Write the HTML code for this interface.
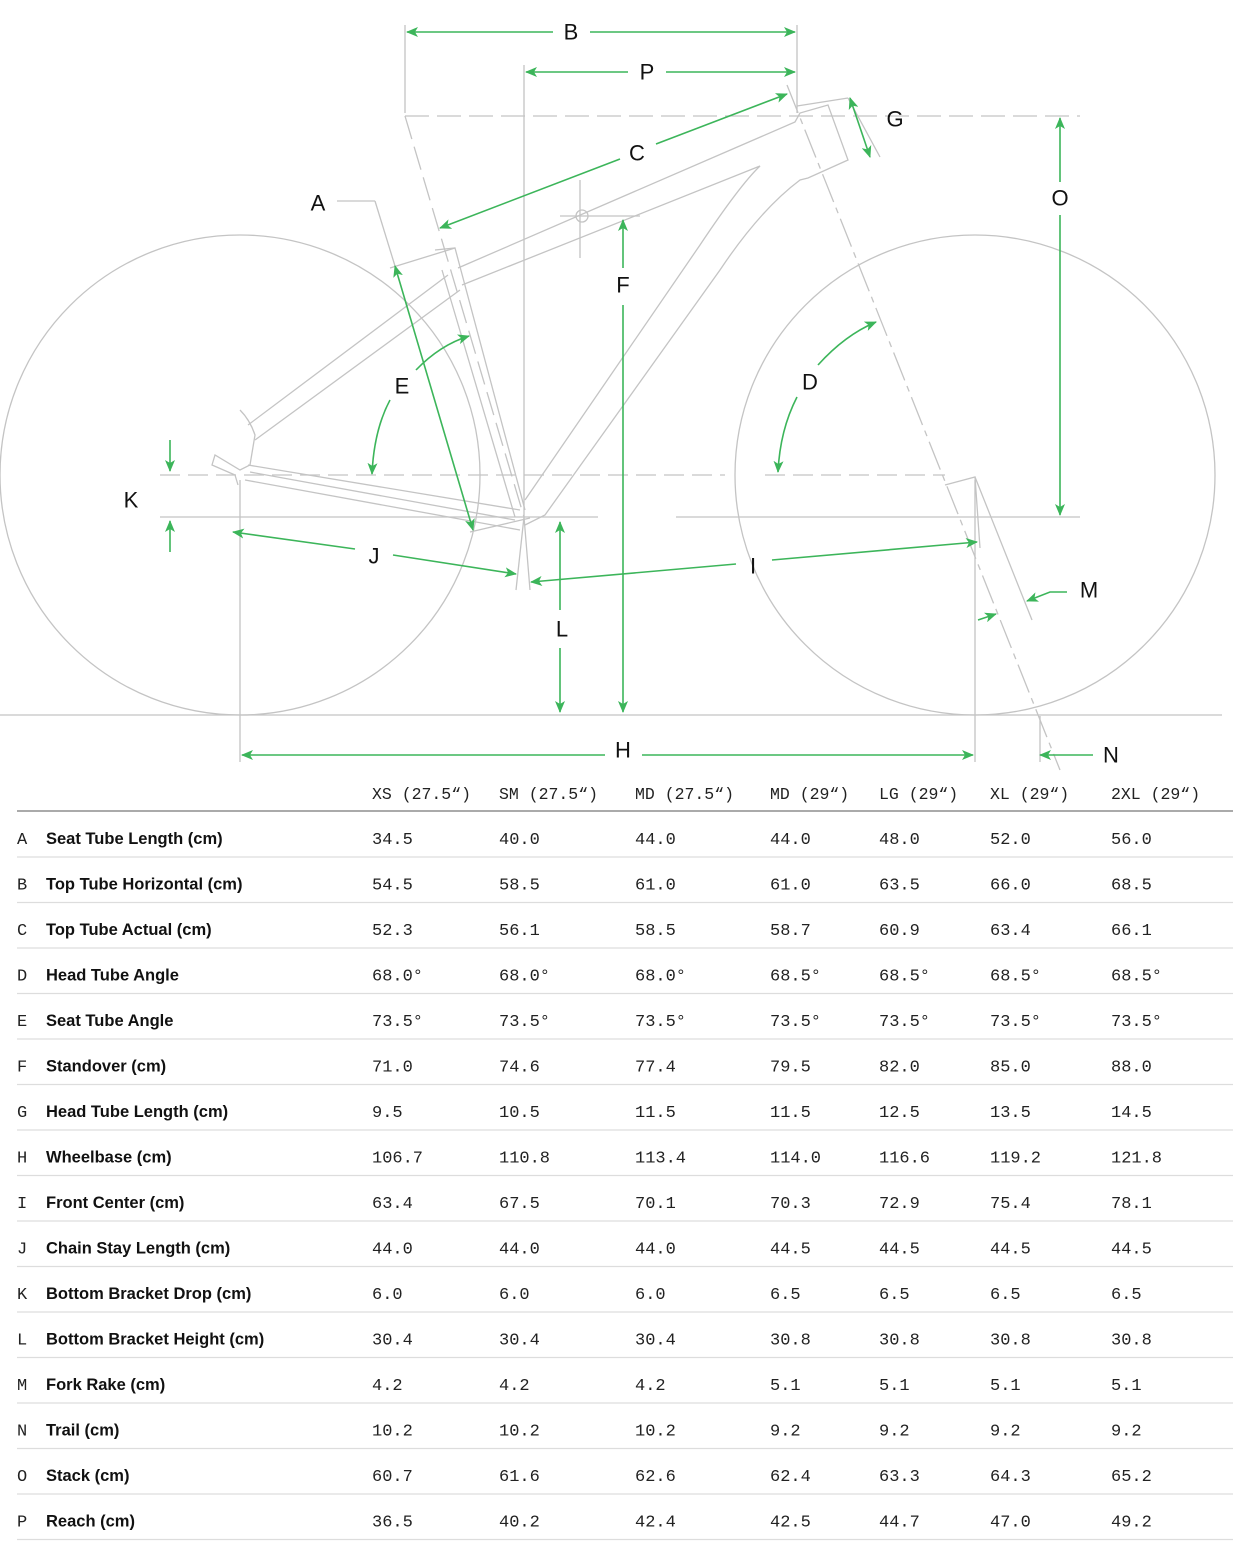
<!DOCTYPE html>
<html><head><meta charset="utf-8"><style>
html,body{margin:0;padding:0;background:#fff;}
svg{display:block}
.lb{font-family:"Liberation Sans",sans-serif;font-size:22px;fill:#111;text-anchor:middle;dominant-baseline:central}
.m{font-family:"Liberation Mono",monospace;font-size:17px;fill:#222}
.h{font-family:"Liberation Mono",monospace;font-size:16.5px;fill:#222}
.n{font-family:"Liberation Sans",sans-serif;font-size:16.5px;font-weight:bold;fill:#111}
</style></head><body>
<svg width="1233" height="1550" viewBox="0 0 1233 1550" xmlns="http://www.w3.org/2000/svg">
<defs>
<marker id="a" viewBox="0 0 12 10" refX="11" refY="5" markerWidth="12" markerHeight="10" markerUnits="userSpaceOnUse" orient="auto-start-reverse"><path d="M0,0 L12,5 L0,10 L3,5 Z" fill="#3cb55a"/></marker>
</defs>
<g fill="none" stroke="#c4c4c4" stroke-width="1.3">
<circle cx="240" cy="475" r="240"/>
<circle cx="975" cy="475" r="240"/>
<line x1="0" y1="715" x2="1222" y2="715"/>
<line x1="160" y1="517" x2="598" y2="517"/>
<line x1="676" y1="517" x2="1080" y2="517"/>
<line x1="160" y1="475" x2="725" y2="475" stroke-dasharray="20,8"/>
<line x1="765" y1="475" x2="945" y2="475" stroke-dasharray="20,8"/>
<line x1="405" y1="116" x2="1080" y2="116" stroke-dasharray="24,8"/>
<line x1="405" y1="25" x2="405" y2="113"/>
<line x1="524" y1="65" x2="524" y2="517"/>
<line x1="797" y1="25" x2="797" y2="113"/>
<line x1="240" y1="480" x2="240" y2="762"/>
<line x1="975" y1="480" x2="975" y2="762"/>
<line x1="1040" y1="716" x2="1040" y2="762"/>
<line x1="405" y1="116" x2="524" y2="517" stroke-dasharray="24,8"/>
<line x1="787" y1="85" x2="1060" y2="770" stroke-dasharray="30,6,6,6"/>
<line x1="580" y1="180" x2="580" y2="258"/>
<line x1="560" y1="216" x2="640" y2="216"/>
<circle cx="582" cy="216" r="6"/>
<line x1="337" y1="201" x2="375" y2="201"/><line x1="375" y1="201" x2="395" y2="266"/>
<!-- frame -->
<path d="M458,268 L795,122 L800,113 L828,105 L848,160 L808,178 L800,180 Q760,210 720,270 L545,515 L525,525"/>
<path d="M462,285 L760,166 Q740,185 700,245 L525,500"/>
<path d="M435,250 L455,248 L525,510 M442,270 L515,517"/>
<path d="M460,290 L255,440 M448,275 L248,425"/>
<path d="M248,465 L520,510 M245,480 L520,530 M250,472 L515,520" />
<path d="M240,410 Q250,420 255,435 L250,465 L240,470 L215,455 L212,465 L235,475 L238,485"/>
<path d="M390,268 L455,248 M470,532 L530,518"/>
<path d="M945,485 L975,477 L980,548 M975,477 L1032,620"/>
<path d="M524,517 L516,590 M524,517 L530,590"/>
<path d="M848,98 L880,157 M797,106 L848,98"/>
</g>
<g stroke="#3cb55a" stroke-width="1.6" fill="none">
<line x1="407" y1="32" x2="553" y2="32" marker-start="url(#a)"/>
<line x1="590" y1="32" x2="795" y2="32" marker-end="url(#a)"/>
<line x1="526" y1="72" x2="628" y2="72" marker-start="url(#a)"/>
<line x1="666" y1="72" x2="795" y2="72" marker-end="url(#a)"/>
<line x1="440" y1="228" x2="620" y2="159" marker-start="url(#a)"/>
<line x1="656" y1="144" x2="787" y2="94" marker-end="url(#a)"/>
<line x1="850" y1="98" x2="870" y2="157" marker-start="url(#a)" marker-end="url(#a)"/>
<line x1="1060" y1="118" x2="1060" y2="182" marker-start="url(#a)"/>
<line x1="1060" y1="215" x2="1060" y2="515" marker-end="url(#a)"/>
<line x1="623" y1="220" x2="623" y2="268" marker-start="url(#a)"/>
<line x1="623" y1="305" x2="623" y2="712" marker-end="url(#a)"/>
<line x1="242" y1="755" x2="605" y2="755" marker-start="url(#a)"/>
<line x1="642" y1="755" x2="973" y2="755" marker-end="url(#a)"/>
<line x1="531" y1="582" x2="736" y2="564" marker-start="url(#a)"/>
<line x1="772" y1="560" x2="977" y2="542" marker-end="url(#a)"/>
<line x1="233" y1="532" x2="355" y2="549" marker-start="url(#a)"/>
<line x1="393" y1="555" x2="516" y2="574" marker-end="url(#a)"/>
<line x1="560" y1="522" x2="560" y2="610" marker-start="url(#a)"/>
<line x1="560" y1="648" x2="560" y2="712" marker-end="url(#a)"/>
<line x1="170" y1="440" x2="170" y2="471" marker-end="url(#a)"/>
<line x1="170" y1="552" x2="170" y2="521" marker-end="url(#a)"/>
<line x1="395" y1="266" x2="473" y2="530" marker-start="url(#a)" marker-end="url(#a)"/>
<path d="M416,370 Q440,345 469,336" marker-end="url(#a)"/>
<path d="M390,400 Q374,430 372,474" marker-end="url(#a)"/>
<path d="M818,365 Q845,335 876,322" marker-end="url(#a)"/>
<path d="M797,397 Q780,430 778,472" marker-end="url(#a)"/>
<path d="M1067,592 L1050,592 L1027,601" marker-end="url(#a)"/>
<line x1="978" y1="620" x2="996" y2="614" marker-end="url(#a)"/>
<line x1="1093" y1="755" x2="1040" y2="755" marker-end="url(#a)"/>
</g>
<g class="lb">
<text x="571" y="32">B</text><text x="647" y="72">P</text><text x="637" y="153">C</text>
<text x="895" y="119">G</text><text x="1060" y="198">O</text><text x="318" y="203">A</text>
<text x="623" y="285">F</text><text x="402" y="386">E</text><text x="810" y="382">D</text>
<text x="131" y="500">K</text><text x="374" y="556">J</text><text x="753" y="566">I</text>
<text x="562" y="629">L</text><text x="1089" y="590">M</text><text x="623" y="750">H</text><text x="1111" y="755">N</text>
</g>
<!-- table -->
<g class="h">
<text x="372" y="799">XS (27.5“)</text><text x="499" y="799">SM (27.5“)</text><text x="635" y="799">MD (27.5“)</text>
<text x="770" y="799">MD (29“)</text><text x="879" y="799">LG (29“)</text><text x="990" y="799">XL (29“)</text><text x="1111" y="799">2XL (29“)</text>
</g>
<line x1="17" y1="811" x2="1233" y2="811" stroke="#777" stroke-width="1.3"/>
<g stroke="#ddd" stroke-width="1.3">
<line x1="17" y1="857" x2="1233" y2="857"/><line x1="17" y1="902.5" x2="1233" y2="902.5"/><line x1="17" y1="948" x2="1233" y2="948"/><line x1="17" y1="993.5" x2="1233" y2="993.5"/>
<line x1="17" y1="1039" x2="1233" y2="1039"/><line x1="17" y1="1084.5" x2="1233" y2="1084.5"/><line x1="17" y1="1130" x2="1233" y2="1130"/><line x1="17" y1="1175.5" x2="1233" y2="1175.5"/>
<line x1="17" y1="1221" x2="1233" y2="1221"/><line x1="17" y1="1266.5" x2="1233" y2="1266.5"/><line x1="17" y1="1312" x2="1233" y2="1312"/><line x1="17" y1="1357.5" x2="1233" y2="1357.5"/>
<line x1="17" y1="1403" x2="1233" y2="1403"/><line x1="17" y1="1448.5" x2="1233" y2="1448.5"/><line x1="17" y1="1494" x2="1233" y2="1494"/><line x1="17" y1="1539.5" x2="1233" y2="1539.5"/>
</g>
<g id="rows"></g>
<g>
<g transform="translate(0,844)"><text class="m" x="17">A</text><text class="n" x="46">Seat Tube Length (cm)</text><text class="m" x="372">34.5</text><text class="m" x="499">40.0</text><text class="m" x="635">44.0</text><text class="m" x="770">44.0</text><text class="m" x="879">48.0</text><text class="m" x="990">52.0</text><text class="m" x="1111">56.0</text></g>
<g transform="translate(0,889.5)"><text class="m" x="17">B</text><text class="n" x="46">Top Tube Horizontal (cm)</text><text class="m" x="372">54.5</text><text class="m" x="499">58.5</text><text class="m" x="635">61.0</text><text class="m" x="770">61.0</text><text class="m" x="879">63.5</text><text class="m" x="990">66.0</text><text class="m" x="1111">68.5</text></g>
<g transform="translate(0,935)"><text class="m" x="17">C</text><text class="n" x="46">Top Tube Actual (cm)</text><text class="m" x="372">52.3</text><text class="m" x="499">56.1</text><text class="m" x="635">58.5</text><text class="m" x="770">58.7</text><text class="m" x="879">60.9</text><text class="m" x="990">63.4</text><text class="m" x="1111">66.1</text></g>
<g transform="translate(0,980.5)"><text class="m" x="17">D</text><text class="n" x="46">Head Tube Angle</text><text class="m" x="372">68.0°</text><text class="m" x="499">68.0°</text><text class="m" x="635">68.0°</text><text class="m" x="770">68.5°</text><text class="m" x="879">68.5°</text><text class="m" x="990">68.5°</text><text class="m" x="1111">68.5°</text></g>
<g transform="translate(0,1026)"><text class="m" x="17">E</text><text class="n" x="46">Seat Tube Angle</text><text class="m" x="372">73.5°</text><text class="m" x="499">73.5°</text><text class="m" x="635">73.5°</text><text class="m" x="770">73.5°</text><text class="m" x="879">73.5°</text><text class="m" x="990">73.5°</text><text class="m" x="1111">73.5°</text></g>
<g transform="translate(0,1071.5)"><text class="m" x="17">F</text><text class="n" x="46">Standover (cm)</text><text class="m" x="372">71.0</text><text class="m" x="499">74.6</text><text class="m" x="635">77.4</text><text class="m" x="770">79.5</text><text class="m" x="879">82.0</text><text class="m" x="990">85.0</text><text class="m" x="1111">88.0</text></g>
<g transform="translate(0,1117)"><text class="m" x="17">G</text><text class="n" x="46">Head Tube Length (cm)</text><text class="m" x="372">9.5</text><text class="m" x="499">10.5</text><text class="m" x="635">11.5</text><text class="m" x="770">11.5</text><text class="m" x="879">12.5</text><text class="m" x="990">13.5</text><text class="m" x="1111">14.5</text></g>
<g transform="translate(0,1162.5)"><text class="m" x="17">H</text><text class="n" x="46">Wheelbase (cm)</text><text class="m" x="372">106.7</text><text class="m" x="499">110.8</text><text class="m" x="635">113.4</text><text class="m" x="770">114.0</text><text class="m" x="879">116.6</text><text class="m" x="990">119.2</text><text class="m" x="1111">121.8</text></g>
<g transform="translate(0,1208)"><text class="m" x="17">I</text><text class="n" x="46">Front Center (cm)</text><text class="m" x="372">63.4</text><text class="m" x="499">67.5</text><text class="m" x="635">70.1</text><text class="m" x="770">70.3</text><text class="m" x="879">72.9</text><text class="m" x="990">75.4</text><text class="m" x="1111">78.1</text></g>
<g transform="translate(0,1253.5)"><text class="m" x="17">J</text><text class="n" x="46">Chain Stay Length (cm)</text><text class="m" x="372">44.0</text><text class="m" x="499">44.0</text><text class="m" x="635">44.0</text><text class="m" x="770">44.5</text><text class="m" x="879">44.5</text><text class="m" x="990">44.5</text><text class="m" x="1111">44.5</text></g>
<g transform="translate(0,1299)"><text class="m" x="17">K</text><text class="n" x="46">Bottom Bracket Drop (cm)</text><text class="m" x="372">6.0</text><text class="m" x="499">6.0</text><text class="m" x="635">6.0</text><text class="m" x="770">6.5</text><text class="m" x="879">6.5</text><text class="m" x="990">6.5</text><text class="m" x="1111">6.5</text></g>
<g transform="translate(0,1344.5)"><text class="m" x="17">L</text><text class="n" x="46">Bottom Bracket Height (cm)</text><text class="m" x="372">30.4</text><text class="m" x="499">30.4</text><text class="m" x="635">30.4</text><text class="m" x="770">30.8</text><text class="m" x="879">30.8</text><text class="m" x="990">30.8</text><text class="m" x="1111">30.8</text></g>
<g transform="translate(0,1390)"><text class="m" x="17">M</text><text class="n" x="46">Fork Rake (cm)</text><text class="m" x="372">4.2</text><text class="m" x="499">4.2</text><text class="m" x="635">4.2</text><text class="m" x="770">5.1</text><text class="m" x="879">5.1</text><text class="m" x="990">5.1</text><text class="m" x="1111">5.1</text></g>
<g transform="translate(0,1435.5)"><text class="m" x="17">N</text><text class="n" x="46">Trail (cm)</text><text class="m" x="372">10.2</text><text class="m" x="499">10.2</text><text class="m" x="635">10.2</text><text class="m" x="770">9.2</text><text class="m" x="879">9.2</text><text class="m" x="990">9.2</text><text class="m" x="1111">9.2</text></g>
<g transform="translate(0,1481)"><text class="m" x="17">O</text><text class="n" x="46">Stack (cm)</text><text class="m" x="372">60.7</text><text class="m" x="499">61.6</text><text class="m" x="635">62.6</text><text class="m" x="770">62.4</text><text class="m" x="879">63.3</text><text class="m" x="990">64.3</text><text class="m" x="1111">65.2</text></g>
<g transform="translate(0,1526.5)"><text class="m" x="17">P</text><text class="n" x="46">Reach (cm)</text><text class="m" x="372">36.5</text><text class="m" x="499">40.2</text><text class="m" x="635">42.4</text><text class="m" x="770">42.5</text><text class="m" x="879">44.7</text><text class="m" x="990">47.0</text><text class="m" x="1111">49.2</text></g>
</g>
</svg>
</body></html>
